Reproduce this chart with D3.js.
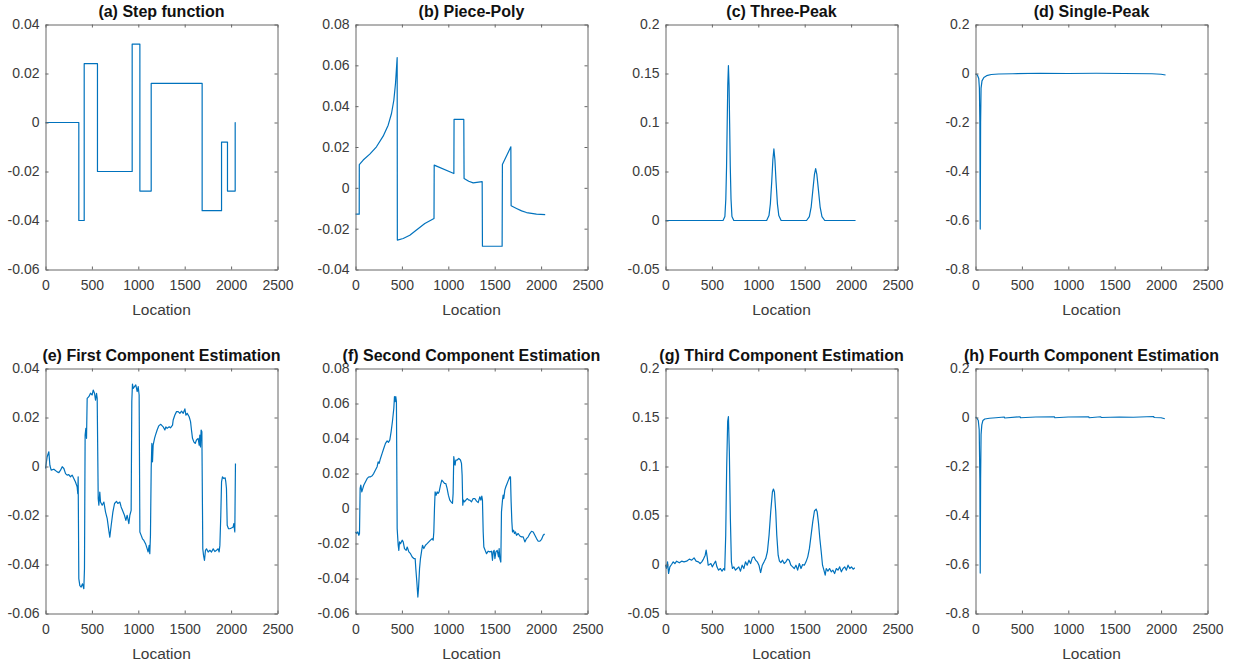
<!DOCTYPE html>
<html>
<head>
<meta charset="utf-8">
<script src="https://cdn.jsdelivr.net/npm/d3@7"></script>
<style>
  body { margin: 0; background: #fff; }
  svg { display: block; }
</style>
</head>
<body>
<svg id="chart" width="1238" height="667"></svg>
<script>
// ---- data ----
const xTicks = [0, 500, 1000, 1500, 2000, 2500];

// (a) step function: level changes (x) and the level that starts there
const stepX = [1, 359, 417, 560, 934, 1017, 1139, 1688, 1897, 1961, 2044, 2048];
const stepY = [0, -0.040, 0.024, -0.020, 0.032, -0.028, 0.016, -0.036, -0.008, -0.028, 0, 0];

// (b) piece-poly
const piecePoly = [[1,-0.0129],[40,-0.0129],[41,0.0114],[83,0.0136],[154,0.0165],[226,0.0201],[298,0.0253],
  [352,0.0307],[388,0.0364],[413,0.0429],[431,0.0511],[449,0.0638],[451,-0.0256],[514,-0.0248],[585,-0.0232],
  [657,-0.0207],[747,-0.0175],[846,-0.0150],[848,0.0111],[1060,0.0070],[1062,0.0335],[1167,0.0335],[1170,0.0046],
  [1220,0.0032],[1268,0.0024],[1365,0.0030],[1368,-0.0286],[1580,-0.0286],[1583,0.0114],[1674,0.0201],
  [1677,-0.0088],[1735,-0.0101],[1790,-0.0113],[1843,-0.0121],[1950,-0.0129],[2044,-0.0131]];

// (c) three peaks
const threePeak = [[1,0],[620,0],[640,0.004],[650,0.022],[658,0.055],[665,0.100],[671,0.138],[678,0.158],
  [685,0.138],[691,0.100],[698,0.055],[706,0.022],[716,0.004],[736,0],[1090,0],[1115,0.005],[1130,0.017],
  [1145,0.040],[1157,0.062],[1168,0.073],[1179,0.062],[1191,0.040],[1206,0.017],[1221,0.005],[1246,0],
  [1520,0],[1550,0.004],[1570,0.014],[1590,0.033],[1605,0.047],[1618,0.053],[1631,0.047],[1646,0.033],
  [1666,0.014],[1686,0.004],[1716,0],[2048,0]];

// (d) single peak
const singlePeak = [[1,-0.002],[20,-0.006],[35,-0.02],[42,-0.06],[47,-0.2],[51,-0.635],[55,-0.2],[60,-0.06],
  [70,-0.03],[90,-0.016],[120,-0.009],[170,-0.004],[250,-0.002],[400,-0.001],[700,0.001],[1000,0],
  [1300,0.001],[1600,0],[1900,-0.001],[2000,-0.003],[2048,-0.006]];

// (e) first component estimation
const firstEst = [[0,-0.0008],[18,0.0040],[36,0.0060],[47,0.0005],[61,-0.0015],[90,-0.0011],[126,-0.0022],
  [144,-0.0025],[162,-0.0015],[180,-0.0001],[198,-0.0008],[216,-0.0029],[233,-0.0035],[251,-0.0033],
  [269,-0.0042],[287,-0.0035],[305,-0.0049],[323,-0.0063],[341,-0.0083],[348,-0.0111],[352,-0.0042],
  [359,-0.0458],[370,-0.0486],[384,-0.0492],[399,-0.0479],[413,-0.0499],[420,-0.0417],[427,0.0128],
  [435,0.0156],[442,0.0115],[449,0.0278],[467,0.0285],[485,0.0299],[503,0.0292],[514,0.0312],[528,0.0299],
  [539,0.0271],[550,0.0299],[557,0.0278],[568,-0.0131],[575,-0.0158],[585,-0.0104],[593,-0.0145],
  [611,-0.0158],[629,-0.0145],[647,-0.0186],[665,-0.0213],[682,-0.0261],[693,-0.0288],[708,-0.0240],
  [726,-0.0186],[744,-0.0151],[765,-0.0142],[779,-0.0151],[801,-0.0145],[815,-0.0165],[837,-0.0186],
  [851,-0.0199],[866,-0.0220],[880,-0.0199],[898,-0.0233],[909,-0.0199],[923,-0.0179],[930,0.0265],
  [937,0.0336],[945,0.0319],[959,0.0326],[973,0.0333],[988,0.0306],[999,0.0326],[1009,0.0292],
  [1017,-0.0267],[1031,-0.0281],[1045,-0.0295],[1060,-0.0302],[1078,-0.0315],[1096,-0.0336],[1106,-0.0349],
  [1117,-0.0322],[1124,-0.0356],[1131,-0.0281],[1139,-0.0008],[1146,0.0094],[1153,0.0019],[1160,0.0087],
  [1175,0.0115],[1185,0.0128],[1203,0.0149],[1221,0.0166],[1239,0.0172],[1250,0.0169],[1268,0.0162],
  [1286,0.0149],[1297,0.0162],[1311,0.0156],[1333,0.0162],[1347,0.0158],[1369,0.0169],[1376,0.0190],
  [1394,0.0210],[1412,0.0224],[1430,0.0224],[1448,0.0217],[1466,0.0226],[1484,0.0217],[1502,0.0235],
  [1513,0.0210],[1527,0.0217],[1548,0.0203],[1563,0.0183],[1573,0.0149],[1584,0.0115],[1598,0.0101],
  [1613,0.0094],[1627,0.0108],[1645,0.0115],[1656,0.0087],[1663,0.0128],[1670,0.0080],[1677,0.0149],
  [1685,0.0142],[1695,-0.0336],[1703,-0.0363],[1713,-0.0383],[1724,-0.0342],[1735,-0.0336],[1753,-0.0349],
  [1771,-0.0342],[1789,-0.0349],[1807,-0.0336],[1825,-0.0347],[1843,-0.0342],[1861,-0.0336],[1871,-0.0349],
  [1879,-0.0322],[1889,-0.0199],[1897,-0.0063],[1907,-0.0042],[1922,-0.0049],[1936,-0.0046],[1943,-0.0063],
  [1950,-0.0090],[1958,-0.0240],[1972,-0.0254],[1986,-0.0254],[2004,-0.0251],[2022,-0.0247],[2029,-0.0233],
  [2040,-0.0267],[2047,0.0012]];

// (f) second component estimation
const secondEst = [[0,-0.0134],[11,-0.0143],[25,-0.0134],[36,-0.0153],[43,-0.0143],[50,0.0115],[57,0.0134],
  [68,0.0095],[79,0.0115],[90,0.0134],[108,0.0153],[126,0.0172],[144,0.0181],[162,0.0181],[180,0.0187],
  [197,0.0201],[215,0.0220],[233,0.0239],[244,0.0267],[255,0.0258],[269,0.0286],[287,0.0315],[305,0.0344],
  [323,0.0372],[341,0.0386],[355,0.0378],[370,0.0392],[384,0.0439],[398,0.0497],[413,0.0573],[420,0.0640],
  [427,0.0611],[434,0.0640],[441,0.0611],[449,-0.0115],[460,-0.0210],[467,-0.0239],[474,-0.0191],
  [485,-0.0201],[503,-0.0181],[514,-0.0191],[528,-0.0229],[546,-0.0239],[557,-0.0220],[575,-0.0248],
  [593,-0.0258],[611,-0.0277],[629,-0.0286],[643,-0.0286],[650,-0.0344],[661,-0.0420],[672,-0.0506],
  [679,-0.0458],[690,-0.0344],[700,-0.0286],[711,-0.0248],[722,-0.0210],[736,-0.0229],[754,-0.0210],
  [772,-0.0201],[790,-0.0191],[808,-0.0181],[826,-0.0172],[837,-0.0181],[844,-0.0134],[851,0.0000],
  [858,0.0095],[869,0.0076],[880,0.0095],[890,0.0086],[901,0.0095],[916,0.0134],[930,0.0162],[944,0.0153],
  [959,0.0143],[973,0.0143],[987,0.0115],[1001,0.0076],[1016,0.0048],[1030,0.0038],[1045,0.0029],
  [1052,0.0086],[1059,0.0296],[1066,0.0267],[1073,0.0248],[1081,0.0277],[1095,0.0277],[1113,0.0286],
  [1131,0.0277],[1142,0.0258],[1149,0.0191],[1156,0.0019],[1163,0.0048],[1174,0.0038],[1189,0.0048],
  [1203,0.0057],[1221,0.0048],[1232,0.0048],[1250,0.0038],[1268,0.0057],[1286,0.0057],[1304,0.0042],
  [1322,0.0034],[1340,0.0067],[1351,0.0048],[1361,0.0071],[1368,0.0048],[1376,-0.0134],[1383,-0.0220],
  [1397,-0.0239],[1412,-0.0258],[1430,-0.0244],[1448,-0.0248],[1466,-0.0244],[1476,-0.0296],[1484,-0.0248],
  [1494,-0.0239],[1502,-0.0286],[1513,-0.0248],[1527,-0.0239],[1541,-0.0277],[1548,-0.0229],[1555,-0.0286],
  [1566,-0.0306],[1573,-0.0019],[1584,0.0048],[1591,0.0076],[1598,0.0057],[1609,0.0105],[1620,0.0124],
  [1634,0.0143],[1648,0.0162],[1663,0.0181],[1670,0.0181],[1677,0.0038],[1685,-0.0076],[1692,-0.0134],
  [1703,-0.0124],[1713,-0.0143],[1724,-0.0134],[1735,-0.0153],[1753,-0.0143],[1771,-0.0157],[1789,-0.0162],
  [1807,-0.0162],[1825,-0.0191],[1843,-0.0172],[1861,-0.0162],[1879,-0.0143],[1897,-0.0130],[1915,-0.0134],
  [1933,-0.0153],[1951,-0.0172],[1969,-0.0187],[1987,-0.0187],[2005,-0.0176],[2023,-0.0153],[2034,-0.0147],
  [2041,-0.0147]];

// (g) third component estimation
const thirdEst = [[0,-0.0007],[11,-0.0040],[22,0.0027],[33,-0.0092],[47,-0.0024],[65,0],[83,0.0027],
  [101,0.0010],[120,0.0034],[149,0.0017],[174,0.0034],[199,0.0027],[228,0.0034],[257,0.0055],[283,0.0044],
  [308,0.0068],[330,0.0034],[355,0.0027],[373,0.0010],[391,0.0027],[409,0.0055],[428,0.0095],[438,0.0147],
  [449,0.0078],[460,-0.0007],[475,0],[489,0.0010],[504,-0.0024],[518,0],[540,0.0034],[554,-0.0024],
  [572,-0.0058],[591,-0.0041],[609,-0.0068],[627,-0.0041],[638,-0.0058],[649,0.030],[659,0.098],
  [670,0.146],[678,0.151],[688,0.115],[699,0.047],[710,0.0027],[721,-0.0041],[736,-0.0024],[754,-0.0058],
  [772,-0.0041],[790,-0.0024],[808,-0.0068],[826,-0.0007],[844,-0.0041],[862,0.0027],[880,-0.0007],
  [899,0.0044],[917,0.0010],[935,0.0068],[953,0.0078],[971,0.0044],[989,0.0027],[1007,-0.0007],
  [1025,-0.0082],[1043,-0.0007],[1062,0.0027],[1080,0.0061],[1098,0.013],[1116,0.030],[1134,0.054],
  [1152,0.074],[1163,0.077],[1174,0.074],[1188,0.054],[1199,0.030],[1214,0.0095],[1228,0.0034],
  [1243,0.0020],[1261,0.0044],[1279,0.0010],[1297,0.0027],[1315,0.0055],[1333,0.0044],[1351,-0.0007],
  [1370,-0.0024],[1388,-0.0041],[1406,-0.0007],[1424,-0.0058],[1442,0.0010],[1460,-0.0041],[1478,0],
  [1496,-0.0007],[1514,0.0027],[1533,0.0078],[1551,0.0164],[1569,0.030],[1587,0.0437],[1605,0.0546],
  [1623,0.0566],[1634,0.0539],[1649,0.042],[1663,0.0266],[1678,0.013],[1692,-0.0007],[1707,-0.0058],
  [1721,-0.0109],[1732,-0.0041],[1750,-0.0068],[1768,-0.0041],[1786,-0.0075],[1804,-0.0058],[1822,-0.0092],
  [1841,-0.0041],[1859,-0.0058],[1877,-0.0024],[1895,-0.0075],[1913,-0.0041],[1931,-0.0024],[1949,-0.0058],
  [1967,-0.0007],[1986,-0.0041],[2004,-0.0024],[2022,-0.0048],[2040,-0.0034]];

// (h) fourth component estimation
const fourthEst = [[1,0.002],[15,-0.002],[30,-0.012],[40,-0.05],[47,-0.25],[51,-0.635],[55,-0.25],[60,-0.07],
  [68,-0.03],[80,-0.012],[100,-0.006],[150,-0.003],[220,-0.001],[310,0.002],[315,-0.002],[480,0.003],
  [485,-0.001],[650,0.002],[850,0.003],[855,-0.001],[1000,0.002],[1220,0.003],[1225,-0.001],[1350,0.003],
  [1355,0],[1550,0.002],[1700,0.001],[1920,0.004],[1925,0],[2000,-0.001],[2040,-0.005]];

const stepFn = stepX.map((x, i) => [x, stepY[i]]);

const ticksA = [-0.06, -0.04, -0.02, 0, 0.02, 0.04];
const ticksB = [-0.04, -0.02, 0, 0.02, 0.04, 0.06, 0.08];
const ticksC = [-0.05, 0, 0.05, 0.1, 0.15, 0.2];
const ticksD = [-0.8, -0.6, -0.4, -0.2, 0, 0.2];
const ticksF = [-0.06, -0.04, -0.02, 0, 0.02, 0.04, 0.06, 0.08];

// ---- layout ----
const W = 232, H = 245;
const lefts = [45.5, 355.5, 665.5, 975.5];
const tops = [24.5, 368.5];
const lineColor = "#0072BD";
const font = "'Liberation Sans', Arial, Helvetica, sans-serif";

const panels = [
  {title: "(a) Step function", data: stepFn, ticks: ticksA, curve: d3.curveStepAfter},
  {title: "(b) Piece-Poly", data: piecePoly, ticks: ticksB},
  {title: "(c) Three-Peak", data: threePeak, ticks: ticksC},
  {title: "(d) Single-Peak", data: singlePeak, ticks: ticksD},
  {title: "(e) First Component Estimation", data: firstEst, ticks: ticksA},
  {title: "(f) Second Component Estimation", data: secondEst, ticks: ticksF},
  {title: "(g) Third Component Estimation", data: thirdEst, ticks: ticksC},
  {title: "(h) Fourth Component Estimation", data: fourthEst, ticks: ticksD}
];

const fmt = d => String(Math.round(d * 1e4) / 1e4);

const svg = d3.select("#chart");

panels.forEach((p, i) => {
  const g = svg.append("g")
    .attr("transform", `translate(${lefts[i % 4]},${tops[Math.floor(i / 4)]})`);

  const x = d3.scaleLinear().domain([0, 2500]).range([0, W]);
  const y = d3.scaleLinear().domain(d3.extent(p.ticks)).range([H, 0]);

  // the line itself
  const line = d3.line()
    .x(d => x(d[0]))
    .y(d => y(d[1]))
    .curve(p.curve || d3.curveLinear);

  g.append("path")
    .datum(p.data)
    .attr("fill", "none")
    .attr("stroke", lineColor)
    .attr("stroke-width", 1.2)
    .attr("stroke-linejoin", "round")
    .attr("d", line);

  // axes, ticks pointing inward on all four sides
  const axisColor = "#666";
  const bottom = g.append("g").attr("transform", `translate(0,${H})`)
    .call(d3.axisBottom(x).tickValues(xTicks).tickSize(-3).tickSizeOuter(0).tickPadding(11).tickFormat(d3.format("d")));
  const left = g.append("g")
    .call(d3.axisLeft(y).tickValues(p.ticks).tickSize(-3).tickSizeOuter(0).tickPadding(6).tickFormat(fmt));
  const top = g.append("g")
    .call(d3.axisTop(x).tickValues(xTicks).tickSize(-3).tickSizeOuter(0).tickFormat(""));
  const right = g.append("g").attr("transform", `translate(${W},0)`)
    .call(d3.axisRight(y).tickValues(p.ticks).tickSize(-3).tickSizeOuter(0).tickFormat(""));

  [bottom, left, top, right].forEach(a => {
    a.attr("color", axisColor).attr("font-family", font).attr("font-size", 14);
    a.selectAll("text").attr("fill", "#3a3a3a");
  });

  g.append("text")
    .attr("x", W / 2)
    .attr("y", H + 45)
    .attr("text-anchor", "middle")
    .attr("font-family", font)
    .attr("font-size", 15.5)
    .attr("fill", "#3a3a3a")
    .text("Location");

  g.append("text")
    .attr("x", W / 2)
    .attr("y", -7.5)
    .attr("text-anchor", "middle")
    .attr("font-family", font)
    .attr("font-size", 16)
    .attr("font-weight", "bold")
    .attr("fill", "#111")
    .text(p.title);
});
</script>
</body>
</html>
